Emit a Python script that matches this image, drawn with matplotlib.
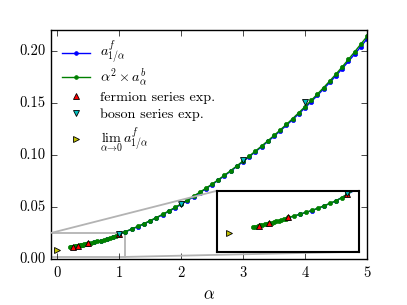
import numpy as np
import matplotlib
matplotlib.use("Agg")
import matplotlib.pyplot as plt
from mpl_toolkits.axes_grid1.inset_locator import mark_inset

plt.style.use("classic")
plt.rcParams["figure.facecolor"] = "white"
plt.rcParams["savefig.facecolor"] = "white"
plt.rcParams["font.family"] = ["cmr10", "DejaVu Serif"]
plt.rcParams["mathtext.fontset"] = "cm"
plt.rcParams["axes.formatter.use_mathtext"] = True
plt.rcParams["axes.unicode_minus"] = False

# ---- data ----
# alpha^2 x a^b_alpha (green)
alpha_green = [0.20, 0.22, 0.24, 0.26, 0.28, 0.30, 0.32, 0.34, 0.36, 0.38, 0.40, 0.42, 0.44, 0.46, 0.48,
               0.50, 0.55, 0.60, 0.65, 0.70, 0.75, 0.80, 0.85, 0.90, 0.95,
               1.0, 1.1, 1.2, 1.3, 1.4, 1.5, 1.6, 1.7, 1.8, 1.9,
               2.0, 2.1, 2.2, 2.3, 2.4, 2.5, 2.6, 2.7, 2.8, 2.9,
               3.0, 3.1, 3.2, 3.3, 3.4, 3.5, 3.6, 3.7, 3.8, 3.9,
               4.0, 4.1, 4.2, 4.3, 4.4, 4.5, 4.6, 4.7, 4.8, 4.9, 5.0]
val_green = [0.0113, 0.0115, 0.0117, 0.0119, 0.0121, 0.0123, 0.0125, 0.0127, 0.0130, 0.0132, 0.0135, 0.0137, 0.0140, 0.0142, 0.0145,
             0.0149, 0.0155, 0.0162, 0.0169, 0.0176, 0.0184, 0.0193, 0.0202, 0.0212, 0.0223,
             0.0238, 0.0263, 0.0288, 0.0313, 0.0340, 0.0369, 0.0398, 0.0429, 0.0462, 0.0495,
             0.0530, 0.0566, 0.0603, 0.0641, 0.0680, 0.0720, 0.0762, 0.0805, 0.0849, 0.0895,
             0.0942, 0.0989, 0.1037, 0.1086, 0.1136, 0.1187, 0.1240, 0.1294, 0.1349, 0.1406,
             0.1464, 0.1524, 0.1585, 0.1647, 0.1711, 0.1777, 0.1846, 0.1917, 0.1990, 0.2064, 0.2138]

# a^f_{1/alpha} (blue)
alpha_blue = [0.5, 0.6, 0.7, 0.8, 0.9,
              1.0, 1.1, 1.2, 1.3, 1.4, 1.5, 1.6, 1.7, 1.8, 1.9,
              2.0, 2.1, 2.2, 2.3, 2.4, 2.5, 2.6, 2.7, 2.8, 2.9,
              3.0, 3.1, 3.2, 3.3, 3.4, 3.5, 3.6, 3.7, 3.8, 3.9,
              4.0, 4.1, 4.2, 4.3, 4.4, 4.5, 4.6, 4.7, 4.8, 4.9, 5.0]
val_blue = [0.0148, 0.0161, 0.0175, 0.0192, 0.0211,
            0.0237, 0.0261, 0.0286, 0.0311, 0.0337, 0.0365, 0.0394, 0.0425, 0.0457, 0.0490,
            0.0525, 0.0561, 0.0598, 0.0636, 0.0675, 0.0715, 0.0757, 0.0800, 0.0844, 0.0889,
            0.0936, 0.0983, 0.1031, 0.1079, 0.1129, 0.1179, 0.1231, 0.1285, 0.1339, 0.1395,
            0.1453, 0.1512, 0.1572, 0.1634, 0.1697, 0.1762, 0.1829, 0.1898, 0.1968, 0.2040, 0.2114]

alpha_fermion = [0.25, 1.0 / 3.0, 0.5, 1.0]
val_fermion = [0.0117, 0.0128, 0.0150, 0.0236]

alpha_boson = [1.0, 2.0, 3.0, 4.0]
val_boson = [0.0240, 0.0528, 0.0950, 0.1510]

alpha_limit = [0.0]
val_limit = [0.0090]

labels = [r"$a^f_{1/\alpha}$", r"$\alpha^2\times a^b_\alpha$", "fermion series exp.",
          "boson series exp.", r"$\lim_{\alpha\to 0}\, a^f_{1/\alpha}$"]

W, H = 407, 305
fig = plt.figure(figsize=(W / 100, H / 100), dpi=100)
ax = fig.add_axes([51 / W, 46 / H, 316 / W, 229 / H])


def draw(a):
    hs = []
    hs += a.plot(alpha_blue, val_blue, "b.-", ms=6, lw=1.0, label=labels[0])
    hs += a.plot(alpha_green, val_green, "g.-", ms=6, lw=1.0, label=labels[1])
    hs += a.plot(alpha_fermion, val_fermion, "r^", ms=5, mew=0.6, mec="k", label=labels[2])
    hs += a.plot(alpha_boson, val_boson, "cv", ms=5, mew=0.6, mec="k", label=labels[3])
    hs += a.plot(alpha_limit, val_limit, "y>", ms=5, mew=0.6, mec="k", label=labels[4])
    return hs


handles = draw(ax)
ax.set_xlim(-0.1, 5)
ax.set_ylim(0, 0.22)
ax.set_xticks([0, 1, 2, 3, 4, 5])
ax.set_yticks([0.00, 0.05, 0.10, 0.15, 0.20])
ax.yaxis.set_major_formatter(matplotlib.ticker.FormatStrFormatter("%.2f"))
ax.tick_params(labelsize=10.5, direction="in", top=True, right=True, length=4)
ax.set_xlabel(r"$\alpha$", fontsize=12)

# one legend row per entry, stacked like the reference
row_y = [0.898, 0.790, 0.705, 0.632, 0.515]
for i, (h, lab, yy) in enumerate(zip(handles, labels, row_y)):
    leg = ax.legend([h], [lab], loc="center left", frameon=False, numpoints=1, fontsize=10.2,
                    handlelength=2.0, handletextpad=0.7, markerscale=0.9,
                    borderaxespad=0.0, borderpad=0.0, bbox_to_anchor=(0.035, yy))
    if i < len(handles) - 1:
        ax.add_artist(leg)

axins = fig.add_axes([217.3 / W, 53.3 / H, 142 / W, 61 / H])
draw(axins)
axins.set_xlim(-0.1, 1.1)
axins.set_ylim(0.002, 0.025)
axins.set_xticks([])
axins.set_yticks([])
for s in axins.spines.values():
    s.set_linewidth(1.5)

mark_inset(ax, axins, loc1=2, loc2=4, fc="none", ec="0.7", lw=1.3)

fig.savefig("out.png", dpi=100)
